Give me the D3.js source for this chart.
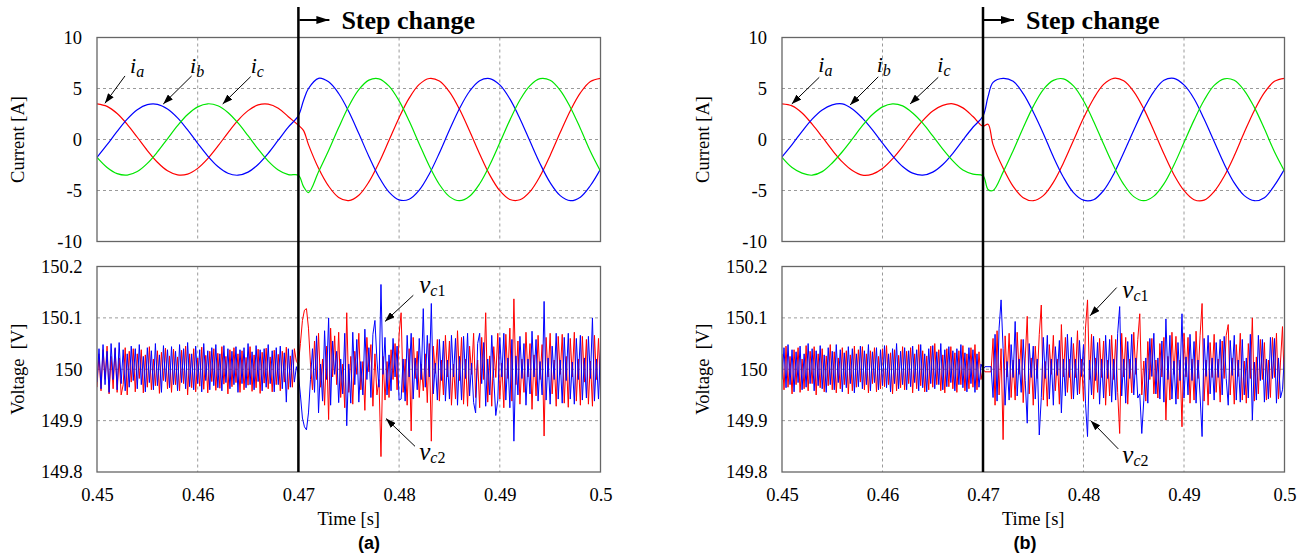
<!DOCTYPE html>
<html lang="en">
<head>
<meta charset="UTF-8">
<title>Step change</title>
<script src="https://cdn.jsdelivr.net/npm/d3@7/dist/d3.min.js"></script>
<style>
  body { margin: 0; background: #fff; }
</style>
</head>
<body>
<div id="chart"></div>
<script>
// ---- data ----
// current sample times [s]
const tCur = [0.450, 0.451, 0.452, 0.453, 0.454, 0.455, 0.456, 0.457, 0.458, 0.459,
    0.460, 0.461, 0.462, 0.463, 0.464, 0.465, 0.466, 0.467, 0.468, 0.469, 0.470,
    0.4705, 0.471, 0.472, 0.473, 0.474, 0.475, 0.476, 0.477, 0.478, 0.479, 0.480,
    0.481, 0.482, 0.483, 0.484, 0.485, 0.486, 0.487, 0.488, 0.489, 0.490,
    0.491, 0.492, 0.493, 0.494, 0.495, 0.496, 0.497, 0.498, 0.499, 0.500]

// phase currents [A], panel (a)
const iaA = [3.5, 3.25, 2.55, 1.49, 0.22, -1.08, -2.23, -3.07, -3.47, -3.39, -2.83, -1.88, -0.66, 0.66, 1.88, 2.83, 3.39, 3.47, 3.07, 2.23, 1.4,
    0.9, -0.5,
    -2.82, -4.57, -5.68, -5.99, -5.46, -4.16, -2.28, -0.08, 2.14, 4.05, 5.40, 5.98, 5.73, 4.67, 2.96, 0.83, -1.42, -3.47, -5.02, -5.88, -5.91, -5.11, -3.59, -1.56, 0.68, 2.82, 4.57, 5.68, 5.99]
const ibA = [-1.75, -0.51, 0.80, 2.00, 2.92, 3.42, 3.45, 2.99, 2.12, 0.94, -0.37, -1.62, -2.65, -3.31, -3.50, -3.20, -2.45, -1.36, -0.07, 1.22, 2.34,
    3.8, 5.0,
    6.00, 5.65, 4.51, 2.74, 0.58, -1.66, -3.67, -5.16, -5.92, -5.86, -4.97, -3.38, -1.32, 0.93, 3.04, 4.73, 5.76, 5.97, 5.35, 3.98, 2.04, -0.18, -2.37, -4.23, -5.50, -6.00, -5.65, -4.51, -2.9]
const icA = [-1.75, -2.74, -3.35, -3.49, -3.14, -2.34, -1.22, 0.07, 1.36, 2.45, 3.20, 3.50, 3.31, 2.65, 1.62, 0.37, -0.94, -2.12, -2.99, -3.45, -3.5,
    -4.6, -5.2,
    -3.17, -1.08, 1.17, 3.26, 4.88, 5.82, 5.95, 5.23, 3.79, 1.81, -0.43, -2.60, -4.41, -5.60, -6.00, -5.56, -4.34, -2.51, -0.33, 1.90, 3.87, 5.28, 5.96, 5.80, 4.82, 3.17, 1.08, -1.17, -3.1]

// phase currents [A], panel (b)
const iaB = [3.5, 3.3, 2.6, 1.5, 0.25, -1.05, -2.2, -3.05, -3.5, -3.4, -2.85, -1.9, -0.7, 0.65, 1.85, 2.8, 3.35, 3.5, 3.1, 2.25, 1.3,
    1.5, -0.5,
    -2.8, -4.6, -5.7, -6.0, -5.5, -4.2, -2.3, -0.1, 2.1, 4.0, 5.4, 6.0, 5.75, 4.7, 3.0, 0.85, -1.4, -3.45, -5.0, -5.9, -5.95, -5.1, -3.6, -1.6, 0.7, 2.85, 4.6, 5.7, 6.0]
const ibB = [-1.7, -0.5, 0.8, 2.0, 2.9, 3.4, 3.5, 3.0, 2.1, 0.95, -0.35, -1.6, -2.65, -3.3, -3.5, -3.2, -2.45, -1.35, -0.05, 1.2, 2.3,
    4.2, 5.6,
    6.0, 5.7, 4.5, 2.7, 0.6, -1.7, -3.7, -5.2, -5.95, -5.9, -5.0, -3.4, -1.3, 0.9, 3.0, 4.7, 5.8, 6.0, 5.35, 4.0, 2.0, -0.2, -2.4, -4.25, -5.5, -6.0, -5.7, -4.5, -2.9]
const icB = [-1.75, -2.75, -3.3, -3.5, -3.15, -2.3, -1.2, 0.05, 1.35, 2.45, 3.2, 3.5, 3.3, 2.6, 1.6, 0.35, -0.95, -2.1, -3.0, -3.4, -3.55,
    -4.9, -5.0,
    -3.2, -1.1, 1.15, 3.25, 4.9, 5.8, 5.95, 5.25, 3.8, 1.8, -0.45, -2.6, -4.4, -5.6, -6.0, -5.55, -4.35, -2.5, -0.3, 1.9, 3.85, 5.3, 5.95, 5.8, 4.8, 3.15, 1.05, -1.2, -3.1]

// capacitor voltage ripple [mV around 150 V], one sample every 0.2 ms
const vStep = 0.0002
// panel (a), 0.45 s .. 0.4698 s
const redPreA = [-35, 30, -42, 38, -20, 45, -48, 25, -38, 40,
    -45, 22, -50, -30, 42, -50, 35, -25, 40, -44,
    30, -18, 38, -46, 28, -35, 44, -40, 20, -32,
    36, -47, 33, -22, 41, -38, 26, -45, 39, -30,
    24, -42, 37, -28, 45, -50, 30, -36, 40, -44,
    22, -33, 43, -39, 27, -46, 35, -24, 40, -41,
    31, -37, 44, -29, 25, -48, 38, -34, 42, -26,
    30, -45, 36, -40, 23, -31, 44, -43, 28, -36,
    39, -47, 33, -27, 41, -38, 24, -44, 37, -30,
    29, -42, 35, -25, 43, -39, 26, -35, 40, 15]
const bluePreA = [-25, 40, -38, 48, -30, 35, -45, 50, -20, 42,
    -40, 52, -28, 38, -42, 30, -35, 45, -22, 40,
    -38, 48, -30, 25, -44, 42, -26, 36, -40, 50,
    -32, 28, -45, 46, -24, 38, -36, 44, -30, 35,
    -42, 48, -26, 40, -38, 52, -34, 30, -40, 45,
    -28, 38, -44, 50, -22, 36, -40, 42, -32, 48,
    -36, 30, -42, 46, -26, 40, -38, 35, -30, 44,
    -45, 38, -28, 42, -36, 50, -30, 34, -40, 46,
    -24, 38, -42, 40, -35, 48, -28, 36, -44, 42,
    -30, 45, -38, 32, -64, 40, -35, 38, -25, 5]
// panel (a), 0.47 s .. 0.5 s
const redPostA = [10, 50, 95, 115, 118, 80, 10, -40, 55, -20,
    70, -35, 20, -70, 45, -98, 80, -15, 65, -30,
    72, -55, 10, -75, 110, -45, 25, -68, 35, -10,
    70, -40, 15, -80, 62, -5, 48, -72, 30, -50,
    -20, -170, 25, -60, 15, -55, 38, -20, 50, -40,
    68, 110, -45, 20, -70, 40, -120, 62, -18, 35,
    -55, 10, -42, 30, -65, 50, -140, 45, -8, 58,
    -62, 18, -50, 66, -15, 55, -70, 10, -58, 75,
    -22, 62, -68, 20, -72, 45, -10, 70, -55, 18,
    -75, 62, -20, 110, -64, 26, -72, 44, -16, 70,
    -58, 12, -75, 68, -18, 80, -62, 137, -30, 55,
    -68, 20, -45, 72, -15, 50, -78, 28, -52, 66,
    -20, 48, -130, 62, -15, 70, -48, 18, -72, 64,
    -10, 68, -66, 25, -74, 60, -15, 72, -62, 20,
    -70, 64, -25, 58, -68, 16, -72, 66, -20, 60,
    -40]
const bluePostA = [-10, -50, -95, -112, -118, -85, -20, 40, -45, 65,
    -85, 10, -62, 75, -20, 100, -70, 55, -10, 35,
    -65, 20, -48, 70, -110, 10, -66, 72, -30, 58,
    -64, 15, -50, 78, -20, 42, -55, 68, 95, 18,
    -35, 165, -10, 62, -50, 28, -42, 60, -15, 45,
    -60, -58, 20, -62, 66, -15, 70, -58, 22, -40,
    60, -20, 118, -35, 66, -15, 128, -48, 12, -60,
    58, -22, 55, -62, 18, -58, 66, -15, 60, -70,
    25, -60, 64, -18, 70, -52, 12, -65, -85, 50,
    70, -28, 52, -72, 20, -50, 66, -18, -90, -60,
    62, -15, 70, -60, 22, -75, 58, -140, 26, -50,
    64, -18, 50, -70, 20, -48, 74, -15, 58, -62,
    15, -50, 132, -60, 22, -68, 45, -20, 70, -58,
    18, -66, 62, -22, 70, -58, 14, -68, 60, -20,
    66, -60, 22, -56, 64, -18, 100, -62, 20, -58,
    40]
// panel (b), 0.45 s .. 0.4698 s
const redPreB = [30, -40, 45, -35, 25, -48, 38, -30, 42, -45,
    20, -38, 46, -42, 35, -28, 44, -50, 30, -36,
    40, -44, 26, -32, 48, -40, 34, -46, 22, -38,
    42, -30, 36, -48, 28, -42, 45, -35, 38, -25,
    44, -40, 30, -46, 36, -28, 42, -44, 25, -38,
    40, -34, 46, -30, 32, -48, 38, -42, 27, -36,
    44, -40, 35, -28, 42, -46, 30, -38, 48, -32,
    36, -44, 26, -40, 45, -35, 50, -30, 38, -42,
    28, -46, 40, -34, 44, -38, 32, -45, 36, -30,
    46, -42, 30, -38, 42, -35, 48, -40, 34, -20]
const bluePreB = [-20, 42, -36, 48, -30, 38, -44, 34, -26, 45,
    -40, 30, -35, 50, -28, 40, -42, 36, -32, 46,
    -38, 28, -45, 42, -30, 35, -40, 48, -26, 38,
    -44, 32, -36, 44, -28, 40, -46, 30, -34, 45,
    -38, 36, -30, 48, -42, 34, -26, 42, -40, 38,
    -32, 46, -36, 30, -44, 40, -28, 50, -38, 35,
    -30, 42, -40, 36, -34, 45, -26, 38, -42, 48,
    -36, 30, -44, 40, -28, 46, -38, 34, -30, 50,
    -40, 38, -34, 44, -26, 36, -42, 40, -30, 48,
    -36, 32, -44, 42, -28, 38, -45, 30, -35, 10]
// panel (b), 0.47 s .. 0.5 s
const redPostB = [0, -5, -5, -5, -5, 60, -70, 75, -50, 40,
    -137, 65, -15, 70, -55, 18, -60, 72, -10, 58,
    -65, 20, 103, -48, 22, -70, 45, -18, 68, 125,
    -60, 15, -72, 48, -10, 66, -42, 20, -68, 87,
    -15, 62, -45, 20, -58, 50, -16, 75, -48, 20,
    -62, 80, 135, -20, 68, -58, 22, -45, 60, -16,
    55, -70, 18, -52, 66, -20, 58, -45, -125, 70,
    -15, 62, -68, 20, -46, 72, -10, 58, 108, -50,
    16, -62, 54, -20, 60, -48, 18, -56, 50, -15,
    62, -99, 25, -60, 72, -10, 64, -58, 18, -112,
    70, -15, 62, -66, 20, -60, 74, -18, 66, 128,
    -62, 18, -70, 52, -16, 68, -45, 20, -64, 55,
    -18, 66, 87, -50, 22, -68, 48, -14, 70, -60,
    16, -66, 50, -18, 100, -62, 24, -48, 58, -20,
    52, -60, 18, -55, 62, -16, 70, -58, 14, 83,
    -40]
const bluePostB = [0, 5, 5, 5, 5, -55, 68, -62, 80, 135,
    40, -70, 15, -60, 48, -16, 93, -52, 20, -45,
    58, -22, -105, 50, -16, 45, -58, 20, -128, -55,
    62, -18, 66, -58, 20, -70, 44, -12, 56, -85,
    20, -52, 68, -16, 62, -58, 20, -50, 56, -14,
    48, -66, -131, 18, -50, 64, -22, 52, -68, 20,
    -56, 66, -18, 58, -64, 20, -60, 70, 122, -52,
    20, -66, 54, -18, 68, -50, 22, -56, -48, -125,
    -60, 22, -66, 60, -14, 70, -48, 22, -58, 55,
    -64, 98, -20, 66, -58, 16, -68, 52, -22, 108,
    -56, 24, -50, 68, -22, 54, -66, 18, -52, -131,
    60, -14, 66, -48, 22, -60, 52, -16, 58, -50,
    64, -18, -70, 56, -12, 66, -60, 18, -64, 58,
    -50, 22, -56, 68, -99, 14, -60, 66, -22, 58,
    -64, 20, -58, 62, -18, 60, -66, 22, -56, -40,
    30]

// ticks
const timeTicks = [0.45, 0.46, 0.47, 0.48, 0.49, 0.5]
const curTicks = [-10, -5, 0, 5, 10]
const voltTicks = [149.8, 149.9, 150, 150.1, 150.2]
const stepTime = 0.47

// ---- layout ----
const width = 1308
const height = 559
const topBox = { top: 37.5, bottom: 241.5 }
const botBox = { top: 266.5, bottom: 472 }
const serif = '"Liberation Serif", "Times New Roman", serif'
const colors = { a: '#ff0000', b: '#0000ff', c: '#00e600' }

const panels = [
    {
        key: 'a', left: 97, right: 600.5, tag: '(a)', tagX: 369,
        ia: iaA, ib: ibA, ic: icA,
        red: [redPreA, redPostA], blue: [bluePreA, bluePostA],
        curNotes: [
            { sub: 'a', tx: 0.45328, ty: 6.55, x1: 0.45278, y1: 6.23, x2: 0.45079, y2: 3.55 },
            { sub: 'b', tx: 0.45924, ty: 6.55, x1: 0.45940, y1: 6.23, x2: 0.45658, y2: 3.48 },
            { sub: 'c', tx: 0.46526, ty: 6.55, x1: 0.46526, y1: 6.16, x2: 0.46248, y2: 3.48 }
        ],
        voltNotes: [
            { sub: '1', tx: 0.48200, ty: 150.148, x1: 0.48141, y1: 150.144, x2: 0.47860, y2: 150.093 },
            { sub: '2', tx: 0.48200, ty: 149.823, x1: 0.48158, y1: 149.850, x2: 0.47870, y2: 149.904 }
        ]
    },
    {
        key: 'b', left: 782, right: 1284.5, tag: '(b)', tagX: 1025,
        ia: iaB, ib: ibB, ic: icB,
        red: [redPreB, redPostB], blue: [bluePreB, bluePostB],
        curNotes: [
            { sub: 'a', tx: 0.45361, ty: 6.6, x1: 0.45371, y1: 6.1, x2: 0.45097, y2: 3.48 },
            { sub: 'b', tx: 0.45942, ty: 6.6, x1: 0.45958, y1: 6.15, x2: 0.45677, y2: 3.38 },
            { sub: 'c', tx: 0.46545, ty: 6.6, x1: 0.46555, y1: 6.1, x2: 0.46274, y2: 3.48 }
        ],
        voltNotes: [
            { sub: '1', tx: 0.48386, ty: 150.138, x1: 0.48330, y1: 150.159, x2: 0.48065, y2: 150.104 },
            { sub: '2', tx: 0.48386, ty: 149.817, x1: 0.48346, y1: 149.845, x2: 0.48072, y2: 149.900 }
        ]
    }
]

const svg = d3.select('#chart')
    .append('svg')
    .attr('width', width)
    .attr('height', height)
    .style('background', '#fff')

const defs = svg.append('defs')
defs.append('marker')
    .attr('id', 'head')
    .attr('viewBox', '0 0 10 7')
    .attr('refX', 10).attr('refY', 3.5)
    .attr('markerWidth', 10).attr('markerHeight', 7)
    .attr('markerUnits', 'userSpaceOnUse')
    .attr('orient', 'auto')
    .append('path').attr('d', 'M0,0L10,3.5L0,7Z').attr('fill', '#000')
defs.append('marker')
    .attr('id', 'bighead')
    .attr('viewBox', '0 0 13 8')
    .attr('refX', 13).attr('refY', 4)
    .attr('markerWidth', 13).attr('markerHeight', 8)
    .attr('markerUnits', 'userSpaceOnUse')
    .attr('orient', 'auto')
    .append('path').attr('d', 'M0,0L13,4L0,8Z').attr('fill', '#000')

function toPoints(pre, post) {
    const pts = pre.map((v, i) => ({ t: 0.45 + i * vStep, v: 150 + v / 1000 }))
    post.forEach((v, k) => pts.push({ t: stepTime + k * vStep, v: 150 + v / 1000 }))
    return pts
}

function drawGrid(g, x, y, box, hVals) {
    g.selectAll('.vgrid').data(timeTicks.slice(1, -1)).enter().append('line')
        .attr('x1', d => x(d)).attr('x2', d => x(d))
        .attr('y1', box.top).attr('y2', box.bottom)
        .attr('stroke', '#9a9a9a').attr('stroke-width', 1).attr('stroke-dasharray', '3,3')
    g.selectAll('.hgrid').data(hVals).enter().append('line')
        .attr('x1', x.range()[0]).attr('x2', x.range()[1])
        .attr('y1', d => y(d)).attr('y2', d => y(d))
        .attr('stroke', '#9a9a9a').attr('stroke-width', 1).attr('stroke-dasharray', '3,3')
}

function drawFrame(g, x, box) {
    g.append('rect')
        .attr('x', x.range()[0]).attr('y', box.top)
        .attr('width', x.range()[1] - x.range()[0]).attr('height', box.bottom - box.top)
        .attr('fill', 'none').attr('stroke', '#666').attr('stroke-width', 1.3)
}

function note(g, x, y, n, main, size, subSize, shift, subItalicAll) {
    g.append('line')
        .attr('x1', x(n.x1)).attr('y1', y(n.y1))
        .attr('x2', x(n.x2)).attr('y2', y(n.y2))
        .attr('stroke', '#000').attr('stroke-width', 1)
        .attr('marker-end', 'url(#head)')
    const t = g.append('text')
        .attr('x', x(n.tx)).attr('y', y(n.ty))
        .attr('font-family', serif).attr('fill', '#000')
    t.append('tspan').attr('font-style', 'italic').attr('font-size', size).text(main)
    if (subItalicAll) {
        t.append('tspan').attr('font-style', 'italic').attr('font-size', subSize).attr('dy', shift).text(n.sub)
    } else {
        t.append('tspan').attr('font-style', 'italic').attr('font-size', subSize).attr('dy', shift).text('c')
        t.append('tspan').attr('font-size', subSize).text(n.sub)
    }
}

panels.forEach(p => {
    const x = d3.scaleLinear().domain([0.45, 0.5]).range([p.left, p.right])
    const yI = d3.scaleLinear().domain([-10, 10]).range([topBox.bottom, topBox.top])
    const yV = d3.scaleLinear().domain([149.8, 150.2]).range([botBox.bottom, botBox.top])
    const g = svg.append('g')

    // clip paths
    defs.append('clipPath').attr('id', 'clipTop' + p.key).append('rect')
        .attr('x', p.left).attr('y', topBox.top).attr('width', p.right - p.left).attr('height', topBox.bottom - topBox.top)
    defs.append('clipPath').attr('id', 'clipBot' + p.key).append('rect')
        .attr('x', p.left).attr('y', botBox.top).attr('width', p.right - p.left).attr('height', botBox.bottom - botBox.top)

    drawGrid(g, x, yI, topBox, [-5, 0, 5])
    drawGrid(g, x, yV, botBox, [149.9, 150, 150.1])

    // currents
    const curLine = d3.line()
        .x(d => x(d.t)).y(d => yI(d.v))
        .curve(d3.curveCatmullRom.alpha(0.5))
    const curG = g.append('g').attr('clip-path', `url(#clipTop${p.key})`)
    ;[['a', p.ia], ['b', p.ib], ['c', p.ic]].forEach(([ph, vals]) => {
        curG.append('path')
            .datum(vals.map((v, i) => ({ t: tCur[i], v })))
            .attr('d', curLine)
            .attr('fill', 'none')
            .attr('stroke', colors[ph])
            .attr('stroke-width', 1.2)
    })

    // capacitor voltages
    const vLine = d3.line().x(d => x(d.t)).y(d => yV(d.v))
    const vG = g.append('g').attr('clip-path', `url(#clipBot${p.key})`)
    vG.append('path').datum(toPoints(p.red[0], p.red[1])).attr('d', vLine)
        .attr('fill', 'none').attr('stroke', colors.a).attr('stroke-width', 1)
    vG.append('path').datum(toPoints(p.blue[0], p.blue[1])).attr('d', vLine)
        .attr('fill', 'none').attr('stroke', colors.b).attr('stroke-width', 1)

    drawFrame(g, x, topBox)
    drawFrame(g, x, botBox)

    // axes
    const styleAxis = ax => {
        ax.select('.domain').remove()
        ax.attr('font-family', serif).attr('font-size', 18.5)
        ax.selectAll('text').attr('fill', '#000')
    }
    g.append('g').attr('transform', `translate(${p.left},0)`)
        .call(d3.axisLeft(yI).tickValues(curTicks).tickSize(0).tickPadding(15).tickFormat(d => String(d)))
        .call(styleAxis)
    g.append('g').attr('transform', `translate(${p.left},0)`)
        .call(d3.axisLeft(yV).tickValues(voltTicks).tickSize(0).tickPadding(14.5).tickFormat(d => String(d)))
        .call(styleAxis)
    g.append('g').attr('transform', `translate(0,${botBox.bottom})`)
        .call(d3.axisBottom(x).tickValues(timeTicks).tickSize(0).tickFormat(d => String(d)))
        .call(styleAxis)
        .selectAll('text').attr('y', 28.5).attr('dy', 0)

    // axis titles
    g.append('text')
        .attr('transform', `translate(${p.left - 73},${(topBox.top + topBox.bottom) / 2}) rotate(-90)`)
        .attr('text-anchor', 'middle').attr('font-family', serif).attr('font-size', 18.5)
        .text('Current [A]')
    g.append('text')
        .attr('transform', `translate(${p.left - 73},${(botBox.top + botBox.bottom) / 2}) rotate(-90)`)
        .attr('text-anchor', 'middle').attr('font-family', serif).attr('font-size', 18.5)
        .style('white-space', 'pre')
        .text('Voltage\u00a0\u00a0[V]')
    g.append('text')
        .attr('x', (p.left + p.right) / 2).attr('y', 525)
        .attr('text-anchor', 'middle').attr('font-family', serif).attr('font-size', 18.5)
        .text('Time [s]')
    g.append('text')
        .attr('x', p.tagX).attr('y', 549)
        .attr('text-anchor', 'middle')
        .attr('font-family', '"Liberation Sans", Arial, sans-serif')
        .attr('font-weight', 'bold').attr('font-size', 18)
        .text(p.tag)

    // step change marker
    const sx = x(stepTime)
    g.append('line')
        .attr('x1', sx).attr('x2', sx).attr('y1', 7).attr('y2', botBox.bottom)
        .attr('stroke', '#000').attr('stroke-width', 2.5)
    g.append('line')
        .attr('x1', sx + 1).attr('x2', sx + 31).attr('y1', 20).attr('y2', 20)
        .attr('stroke', '#000').attr('stroke-width', 2)
        .attr('marker-end', 'url(#bighead)')
    g.append('text')
        .attr('x', sx + 43).attr('y', 28.5)
        .attr('font-family', serif).attr('font-weight', 'bold').attr('font-size', 26)
        .text('Step change')

    // annotations
    p.curNotes.forEach(n => note(g, x, yI, n, 'i', 22, 16, 4, true))
    p.voltNotes.forEach(n => note(g, x, yV, n, 'v', 25, 16, 3, false))
})
</script>
</body>
</html>
